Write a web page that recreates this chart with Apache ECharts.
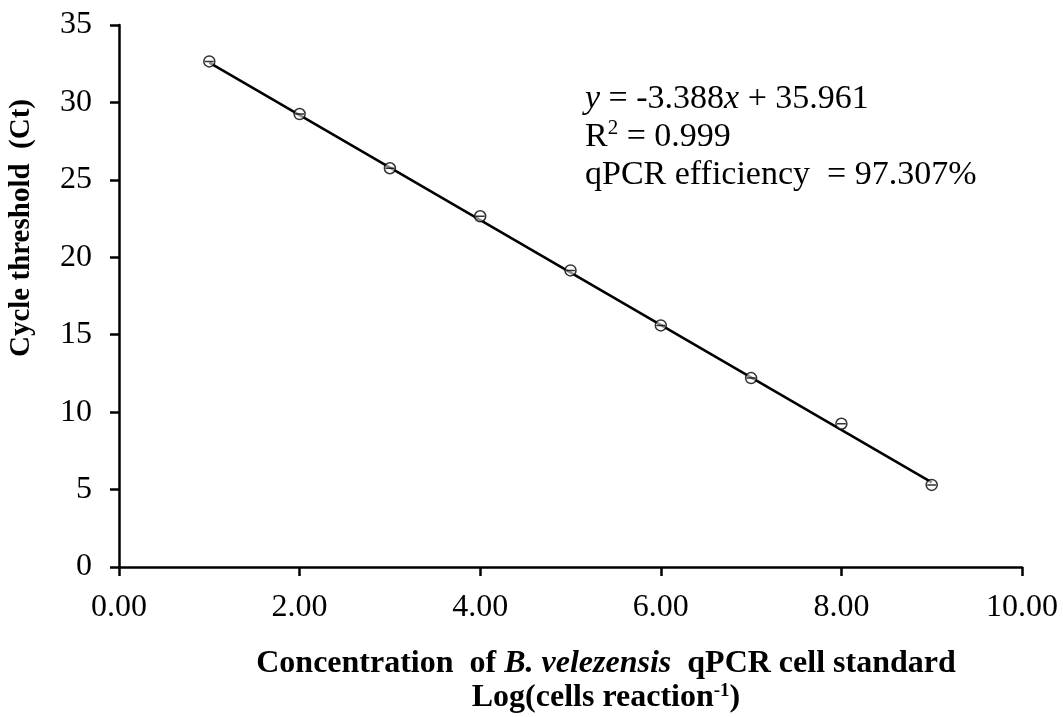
<!DOCTYPE html>
<html>
<head>
<meta charset="utf-8">
<script src="https://cdn.jsdelivr.net/npm/echarts@6/dist/echarts.min.js"></script>
<style>html,body{margin:0;padding:0;background:#fff}#c{width:1063px;height:717px}</style>
</head>
<body>
<div id="c"></div>
<script>
const logConc = [1, 2, 3, 4, 5, 6, 7, 8, 9];
const ctValues = [32.65, 29.25, 25.75, 22.65, 19.15, 15.6, 12.2, 9.25, 5.3];
const trendX = [1, 9];
const trendY = [32.573, 5.469];
const FONT = '"Liberation Serif","Times New Roman",serif';

const chart = echarts.init(document.getElementById('c'), null, {renderer: 'canvas'});
const marker = 'path://M0,5 A5,5 0 1,1 10,5 A5,5 0 1,1 0,5 Z M1,5 L9,5';
chart.setOption({
  animation: false,
  grid: {left: 119, right: 41, top: 25, bottom: 150, containLabel: false},
  xAxis: {
    type: 'value', min: 0, max: 10, interval: 2,
    axisLine: {show: true, lineStyle: {color: '#000', width: 2.5}},
    splitLine: {show: false},
    axisTick: {show: true, inside: false, length: 9, lineStyle: {color: '#000', width: 2.5}},
    axisLabel: {color: '#000', fontFamily: FONT, fontSize: 32, margin: 25,
      formatter: v => v.toFixed(2)}
  },
  yAxis: {
    type: 'value', min: 0, max: 35, interval: 5,
    axisLine: {show: true, lineStyle: {color: '#000', width: 2.5}},
    splitLine: {show: false},
    axisTick: {show: true, inside: false, length: 9, lineStyle: {color: '#000', width: 2.5}},
    axisLabel: {color: '#000', fontFamily: FONT, fontSize: 32, margin: 27}
  },
  series: [
    {
      type: 'line', data: trendX.map((x, i) => [x, trendY[i]]),
      showSymbol: false, symbol: 'none',
      lineStyle: {color: '#000', width: 2.5}, z: 2
    },
    {
      type: 'scatter', data: logConc.map((x, i) => [x, ctValues[i]]),
      symbol: marker, symbolSize: 11,
      itemStyle: {color: 'rgba(255,255,255,0.7)', borderColor: '#000', borderWidth: 1.5}, z: 3
    }
  ],
  graphic: [
    {
      type: 'text', left: 585, top: 82,
      style: {
        rich: {
          n: {fontFamily: FONT, fontSize: 34, fill: '#000', lineHeight: 38},
          i: {fontFamily: FONT, fontSize: 34, fill: '#000', fontStyle: 'italic', lineHeight: 38},
          s: {fontFamily: FONT, fontSize: 21, fill: '#000', verticalAlign: 'top', lineHeight: 32}
        },
        text: '{i|y}{n| = -3.388}{i|x}{n| + 35.961}\n{n|R}{s|2}{n| = 0.999}\n{n|qPCR efficiency  = 97.307%}'
      }
    },
    {
      type: 'text', x: 606, y: 664,
      style: {
        align: 'center', verticalAlign: 'middle',
        rich: {
          b: {fontFamily: FONT, fontSize: 32, fontWeight: 'bold', fill: '#000'},
          bi: {fontFamily: FONT, fontSize: 32, fontWeight: 'bold', fontStyle: 'italic', fill: '#000'}
        },
        text: '{b|Concentration  of }{bi|B. velezensis}{b|  qPCR cell standard}'
      }
    },
    {
      type: 'text', x: 606, y: 698,
      style: {
        align: 'center', verticalAlign: 'middle',
        rich: {
          b: {fontFamily: FONT, fontSize: 32, fontWeight: 'bold', fill: '#000'},
          s: {fontFamily: FONT, fontSize: 19, fontWeight: 'bold', fill: '#000', verticalAlign: 'top', padding: [0, 0, 12, 0]}
        },
        text: '{b|Log(cells reaction}{s|-1}{b|)}'
      }
    },
    {
      type: 'text', x: 22, y: 228, rotation: Math.PI / 2,
      style: {
        align: 'center', verticalAlign: 'middle',
        text: 'Cycle threshold  (Ct)',
        fontFamily: FONT, fontSize: 29, fontWeight: 'bold', fill: '#000'
      }
    }
  ]
});
</script>
</body>
</html>
